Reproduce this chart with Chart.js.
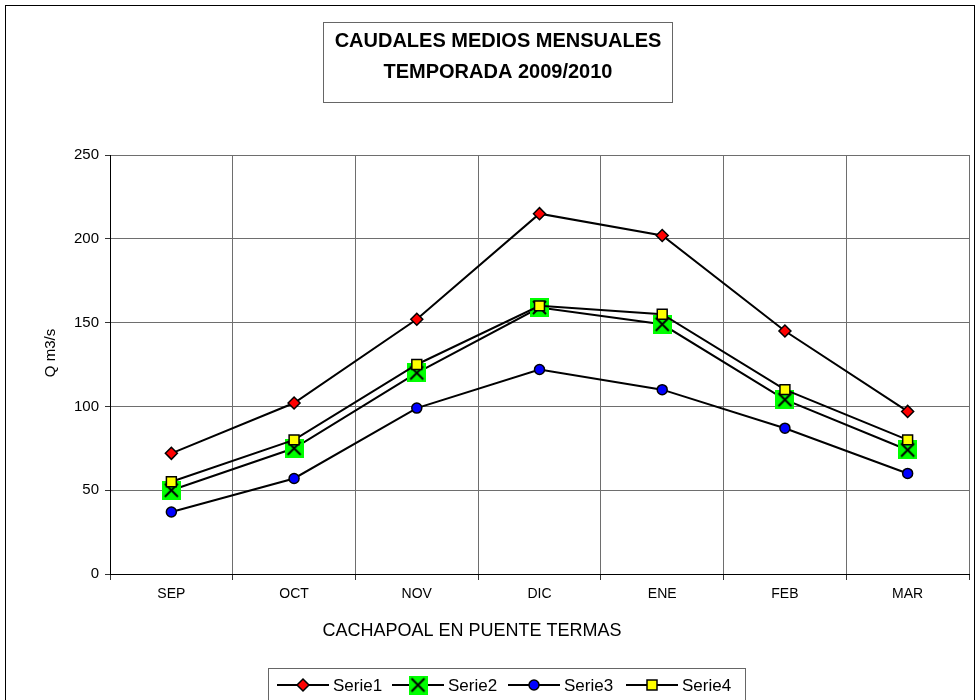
<!DOCTYPE html>
<html>
<head>
<meta charset="utf-8">
<title>Caudales medios mensuales</title>
<script src="https://cdn.jsdelivr.net/npm/chart.js"></script>
<style>
  body { margin: 0; background: #fff; }
  #chart { display: block; }
</style>
</head>
<body>
<canvas id="chart" width="980" height="700"></canvas>
<script>
var months = ["SEP", "OCT", "NOV", "DIC", "ENE", "FEB", "MAR"];
var serie1 = [72, 102, 152, 215, 202, 145, 97];
var serie2 = [50, 75, 120, 159, 149, 104, 74];
var serie3 = [37, 57, 99, 122, 110, 87, 60];
var serie4 = [55, 80, 125, 160, 155, 110, 80];
var yTicks = [0, 50, 100, 150, 200, 250];

var titleLines = ["CAUDALES MEDIOS MENSUALES", "TEMPORADA 2009/2010"];
var xTitle = "CACHAPOAL EN PUENTE TERMAS";
var yTitle = "Q m3/s";

var FONT = "'Liberation Sans', Arial, sans-serif";

// green square with a black X, used as point style for Serie2
function greenCross() {
  var c = document.createElement("canvas");
  c.width = 19; c.height = 19;
  var g = c.getContext("2d");
  g.fillStyle = "#00ff00";
  g.fillRect(0, 0, 19, 19);
  g.strokeStyle = "#000";
  g.lineWidth = 2;
  g.beginPath();
  g.moveTo(3, 3); g.lineTo(16, 16);
  g.moveTo(16, 3); g.lineTo(3, 16);
  g.stroke();
  return c;
}
var crossImg = greenCross();

function drawMarker(ctx, kind, x, y) {
  ctx.save();
  ctx.strokeStyle = "#000";
  ctx.lineWidth = 1.5;
  if (kind === "diamond") {
    ctx.fillStyle = "#ff0000";
    ctx.beginPath();
    ctx.moveTo(x, y - 6); ctx.lineTo(x + 6, y); ctx.lineTo(x, y + 6); ctx.lineTo(x - 6, y);
    ctx.closePath(); ctx.fill(); ctx.stroke();
  } else if (kind === "cross") {
    ctx.drawImage(crossImg, x - 9.5, y - 9.5);
  } else if (kind === "circle") {
    ctx.fillStyle = "#0000ff";
    ctx.beginPath(); ctx.arc(x, y, 5, 0, Math.PI * 2); ctx.fill(); ctx.stroke();
  } else {
    ctx.fillStyle = "#ffff00";
    ctx.fillRect(x - 5, y - 5, 10, 10);
    ctx.strokeRect(x - 5, y - 5, 10, 10);
  }
  ctx.restore();
}

var decor = {
  id: "decor",
  beforeDraw: function(chart) {
    var ctx = chart.ctx;
    ctx.save();
    ctx.fillStyle = "#fff";
    ctx.fillRect(0, 0, chart.width, chart.height);
    ctx.restore();
  },
  afterDraw: function(chart) {
    var ctx = chart.ctx;
    ctx.save();

    // outer frame
    ctx.strokeStyle = "#000";
    ctx.lineWidth = 1;
    ctx.strokeRect(5.5, 5.5, 969, 710);

    // title box
    ctx.strokeStyle = "#666";
    ctx.strokeRect(323.5, 22.5, 349, 80);
    ctx.fillStyle = "#000";
    ctx.textAlign = "center";
    ctx.textBaseline = "middle";
    ctx.font = "bold 20px " + FONT;
    ctx.fillText(titleLines[0], 498, 41);
    ctx.fillText(titleLines[1], 498, 72);

    // axis titles
    ctx.font = "18px " + FONT;
    ctx.fillText(xTitle, 472, 631);

    ctx.save();
    ctx.translate(51, 353);
    ctx.rotate(-Math.PI / 2);
    ctx.font = "15px " + FONT;
    ctx.fillText(yTitle, 0, 0);
    ctx.restore();

    // legend
    ctx.strokeStyle = "#666";
    ctx.strokeRect(268.5, 668.5, 477, 50);
    var items = [
      { label: "Serie1", kind: "diamond", x: 277 },
      { label: "Serie2", kind: "cross", x: 392 },
      { label: "Serie3", kind: "circle", x: 508 },
      { label: "Serie4", kind: "square", x: 626 }
    ];
    var ly = 685;
    ctx.font = "17px " + FONT;
    ctx.textAlign = "left";
    for (var i = 0; i < items.length; i++) {
      var it = items[i];
      ctx.strokeStyle = "#000";
      ctx.lineWidth = 2;
      ctx.beginPath();
      ctx.moveTo(it.x, ly); ctx.lineTo(it.x + 52, ly);
      ctx.stroke();
      drawMarker(ctx, it.kind, it.x + 26, ly);
      ctx.fillStyle = "#000";
      ctx.fillText(it.label, it.x + 56, ly + 1);
    }
    ctx.restore();
  }
};

function line(label, data, style, radius, bg, order) {
  return {
    label: label,
    data: data,
    borderColor: "#000",
    borderWidth: 2,
    tension: 0,
    pointStyle: style,
    pointRadius: radius,
    pointHoverRadius: radius,
    pointBackgroundColor: bg,
    pointBorderColor: "#000",
    pointBorderWidth: 1.5,
    order: order
  };
}

new Chart(document.getElementById("chart"), {
  type: "line",
  data: {
    labels: months,
    datasets: [
      line("Serie1", serie1, "rectRot", 6, "#ff0000", 0),
      line("Serie2", serie2, crossImg, 9, "#00ff00", 2),
      line("Serie3", serie3, "circle", 5, "#0000ff", 3),
      line("Serie4", serie4, "rect", 7, "#ffff00", 1)
    ]
  },
  options: {
    responsive: false,
    animation: false,
    events: [],
    layout: { padding: { left: 0, top: 155, right: 11, bottom: 0 } },
    plugins: {
      legend: { display: false },
      title: { display: false },
      tooltip: { enabled: false }
    },
    scales: {
      x: {
        offset: true,
        grid: { offset: true, color: "#6e6e6e", tickColor: "#333", tickLength: 6 },
        border: { color: "#000", width: 1 },
        ticks: { color: "#000", font: { family: FONT, size: 14 }, padding: 6 },
        afterFit: function(s) { s.height = 126; }
      },
      y: {
        min: 0,
        max: 250,
        afterBuildTicks: function(s) {
          s.ticks = yTicks.map(function(v) { return { value: v }; });
        },
        grid: { color: "#6e6e6e", tickColor: "#333", tickLength: 5 },
        border: { color: "#000", width: 1 },
        ticks: { color: "#000", font: { family: FONT, size: 15 }, padding: 6 },
        afterFit: function(s) { s.width = 110; }
      }
    }
  },
  plugins: [decor]
});
</script>
</body>
</html>
